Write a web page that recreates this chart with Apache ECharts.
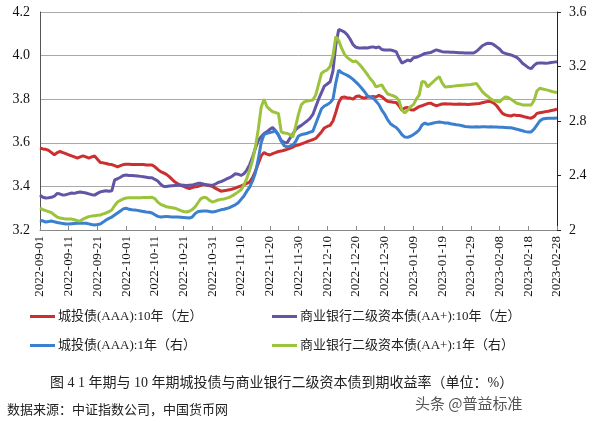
<!DOCTYPE html>
<html><head><meta charset="utf-8">
<script src="https://cdn.jsdelivr.net/npm/echarts@6/dist/echarts.min.js"></script>
<style>html,body{margin:0;padding:0;background:#fff}#c{width:600px;height:422px}</style>
</head><body><div id="c"></div>
<script>
const startDate = '2022-09-01';
const dayCount = 181;
const leftTicks = {min: 3.2, max: 4.2, interval: 0.2};
const rightTicks = {min: 2, max: 3.6, interval: 0.4};
const seriesNames = ['城投债(AAA):10年（左）','商业银行二级资本债(AA+):10年（左）','城投债(AAA):1年（右）','商业银行二级资本债(AA+):1年（右）'];
const caption = '图 4 1 年期与 10 年期城投债与商业银行二级资本债到期收益率（单位：%）';
const source = '数据来源：中证指数公司，中国货币网';

const cityAAA10 = [3.576,3.572,3.570,3.565,3.555,3.545,3.555,3.560,3.555,3.550,
3.545,3.540,3.535,3.530,3.535,3.540,3.535,3.530,3.535,3.540,
3.525,3.510,3.508,3.505,3.502,3.500,3.495,3.490,3.495,3.500,
3.502,3.502,3.500,3.500,3.500,3.500,3.500,3.498,3.498,3.498,
3.490,3.478,3.468,3.462,3.455,3.445,3.432,3.420,3.412,3.405,
3.400,3.395,3.390,3.395,3.398,3.400,3.405,3.410,3.406,3.403,
3.400,3.392,3.385,3.378,3.380,3.382,3.385,3.388,3.392,3.398,
3.402,3.408,3.414,3.420,3.440,3.470,3.505,3.540,3.555,3.548,
3.544,3.550,3.555,3.560,3.562,3.566,3.570,3.575,3.580,3.588,
3.590,3.595,3.600,3.605,3.610,3.615,3.620,3.635,3.650,3.668,
3.675,3.680,3.700,3.740,3.785,3.808,3.810,3.806,3.805,3.800,
3.812,3.815,3.808,3.805,3.810,3.810,3.812,3.810,3.818,3.812,
3.800,3.790,3.788,3.786,3.785,3.770,3.750,3.760,3.762,3.752,
3.750,3.758,3.766,3.770,3.775,3.780,3.782,3.775,3.770,3.774,
3.778,3.779,3.778,3.778,3.777,3.777,3.778,3.777,3.777,3.776,
3.777,3.778,3.779,3.780,3.784,3.787,3.790,3.789,3.782,3.770,
3.752,3.735,3.728,3.725,3.723,3.728,3.725,3.725,3.722,3.718,
3.715,3.713,3.720,3.735,3.738,3.740,3.743,3.745,3.748,3.750,
3.755];

const bankAA10 = [3.360,3.350,3.347,3.348,3.350,3.355,3.368,3.365,3.360,3.362,
3.366,3.370,3.368,3.372,3.374,3.372,3.370,3.366,3.362,3.360,
3.368,3.375,3.378,3.380,3.378,3.380,3.430,3.435,3.442,3.450,
3.452,3.450,3.450,3.449,3.448,3.446,3.444,3.442,3.440,3.440,
3.432,3.425,3.410,3.400,3.400,3.402,3.403,3.404,3.405,3.406,
3.405,3.404,3.405,3.406,3.410,3.414,3.414,3.410,3.408,3.406,
3.405,3.410,3.418,3.422,3.428,3.434,3.440,3.448,3.458,3.456,
3.450,3.458,3.475,3.500,3.535,3.575,3.610,3.628,3.642,3.650,
3.662,3.670,3.655,3.635,3.610,3.602,3.600,3.620,3.640,3.660,
3.672,3.680,3.690,3.700,3.712,3.730,3.765,3.800,3.830,3.860,
3.870,3.880,3.930,4.050,4.120,4.115,4.108,4.095,4.075,4.050,
4.038,4.035,4.035,4.036,4.035,4.038,4.040,4.036,4.040,4.028,
4.026,4.026,4.026,4.022,4.018,3.990,3.966,3.972,3.980,3.975,
3.990,3.992,3.998,4.003,4.010,4.012,4.014,4.020,4.026,4.022,
4.018,4.017,4.016,4.015,4.015,4.014,4.013,4.013,4.012,4.012,
4.012,4.012,4.020,4.032,4.045,4.052,4.057,4.056,4.050,4.040,
4.030,4.015,4.010,4.006,4.003,3.998,3.992,3.980,3.965,3.955,
3.945,3.940,3.955,3.965,3.966,3.966,3.965,3.966,3.968,3.970,
3.972];

const cityAAA1 = [2.073,2.066,2.059,2.062,2.066,2.060,2.055,2.051,2.048,2.044,
2.044,2.046,2.048,2.050,2.050,2.050,2.050,2.045,2.040,2.037,
2.040,2.044,2.058,2.073,2.085,2.095,2.110,2.125,2.140,2.155,
2.160,2.152,2.148,2.146,2.144,2.140,2.136,2.132,2.130,2.125,
2.112,2.100,2.095,2.098,2.100,2.098,2.096,2.095,2.095,2.094,
2.092,2.090,2.088,2.095,2.120,2.135,2.137,2.139,2.140,2.136,
2.132,2.135,2.142,2.148,2.152,2.158,2.164,2.175,2.185,2.200,
2.225,2.250,2.285,2.315,2.360,2.420,2.520,2.640,2.700,2.710,
2.715,2.720,2.730,2.700,2.650,2.620,2.610,2.615,2.625,2.650,
2.690,2.700,2.705,2.710,2.718,2.725,2.780,2.835,2.890,2.910,
2.920,2.935,2.960,3.080,3.174,3.155,3.145,3.135,3.122,3.105,
3.085,3.065,3.040,3.015,2.985,2.975,2.970,2.945,2.920,2.880,
2.850,2.810,2.780,2.765,2.752,2.730,2.700,2.682,2.680,2.688,
2.700,2.715,2.734,2.770,2.785,2.775,2.780,2.785,2.790,2.793,
2.790,2.786,2.785,2.780,2.776,2.772,2.770,2.765,2.760,2.758,
2.756,2.756,2.757,2.756,2.758,2.757,2.756,2.757,2.756,2.756,
2.755,2.754,2.752,2.750,2.750,2.745,2.740,2.734,2.728,2.722,
2.720,2.720,2.740,2.770,2.800,2.815,2.818,2.820,2.820,2.820,
2.822];

const bankAA1 = [2.160,2.150,2.142,2.135,2.128,2.110,2.095,2.088,2.084,2.080,
2.080,2.080,2.075,2.068,2.066,2.080,2.090,2.098,2.102,2.105,
2.108,2.110,2.118,2.125,2.135,2.147,2.180,2.205,2.218,2.228,
2.235,2.236,2.236,2.237,2.237,2.237,2.238,2.238,2.239,2.240,
2.230,2.205,2.188,2.180,2.170,2.167,2.164,2.160,2.152,2.142,
2.136,2.132,2.138,2.150,2.170,2.200,2.230,2.240,2.236,2.218,
2.205,2.212,2.220,2.225,2.228,2.234,2.240,2.252,2.265,2.280,
2.295,2.330,2.380,2.440,2.510,2.610,2.740,2.900,2.960,2.905,
2.885,2.868,2.862,2.855,2.720,2.712,2.710,2.700,2.682,2.760,
2.850,2.920,2.940,2.946,2.950,2.954,2.990,3.070,3.150,3.165,
3.175,3.200,3.280,3.420,3.390,3.335,3.290,3.265,3.250,3.235,
3.240,3.220,3.196,3.170,3.140,3.110,3.086,3.050,3.058,3.065,
3.030,3.000,2.992,2.985,2.975,2.950,2.880,2.860,2.880,2.905,
2.920,2.960,2.990,3.090,3.086,3.050,3.070,3.090,3.110,3.125,
3.080,3.050,3.052,3.054,3.056,3.058,3.060,3.062,3.064,3.066,
3.068,3.072,3.075,3.045,3.015,2.995,2.980,2.960,2.950,2.945,
2.940,2.960,2.976,2.972,2.960,2.945,2.930,2.925,2.918,2.917,
2.917,2.917,2.950,3.020,3.040,3.035,3.030,3.025,3.018,3.012,
3.010];

const colors = ['#cc2f2f','#6355a6','#3b7fcf','#9cc33c'];

function buildDates(start, n) {
  const out = [];
  const t0 = Date.parse(start + 'T00:00:00Z');
  for (let i = 0; i < n; i++) {
    out.push(new Date(t0 + i * 86400000).toISOString().slice(0, 10));
  }
  return out;
}
const dates = buildDates(startDate, dayCount);

const serif = '"Liberation Serif","Noto Sans CJK SC",serif';
const chart = echarts.init(document.getElementById('c'), null, {renderer: 'canvas'});
const mkLine = (i, data, axis) => ({
  name: seriesNames[i], type: 'line', yAxisIndex: axis, data: data,
  showSymbol: false, symbol: 'none', smooth: false,
  lineStyle: {color: colors[i], width: 3}, itemStyle: {color: colors[i]},
  emphasis: {disabled: true}, animation: false
});
const legendPos = [[30, 310], [272, 310], [30, 339], [272, 339]];
chart.setOption({
  animation: false,
  backgroundColor: '#fff',
  grid: {left: 40, right: 43, top: 12, bottom: 192, containLabel: false},
  legend: legendPos.map((p, i) => ({
    data: [seriesNames[i]], left: p[0], top: p[1], itemWidth: 25, itemHeight: 3,
    itemGap: 4, icon: 'rect', selectedMode: false, padding: 0,
    textStyle: {fontFamily: serif, fontSize: 13, color: '#222', padding: [0, 0, 0, -2]}
  })),
  xAxis: {
    type: 'category', data: dates, boundaryGap: false,
    axisLine: {lineStyle: {color: '#888', width: 1}},
    axisTick: {show: true, inside: true, interval: 9, length: 4, lineStyle: {color: '#888'}},
    axisLabel: {interval: 9, rotate: 90, fontFamily: serif, fontSize: 13, color: '#111', margin: 6},
    splitLine: {show: false}
  },
  yAxis: [{
    type: 'value', min: leftTicks.min, max: leftTicks.max, interval: leftTicks.interval,
    axisLine: {show: true, lineStyle: {color: '#555'}},
    axisTick: {show: false},
    axisLabel: {formatter: v => v.toFixed(1), fontFamily: serif, fontSize: 14, color: '#111', margin: 10},
    splitLine: {show: true, lineStyle: {color: '#a8a8a8', width: 1}}
  }, {
    type: 'value', position: 'right', min: rightTicks.min, max: rightTicks.max, interval: rightTicks.interval,
    axisLine: {show: true, lineStyle: {color: '#222'}},
    axisTick: {show: true, inside: false, length: 4, lineStyle: {color: '#222'}},
    axisLabel: {formatter: v => String(Math.round(v * 10) / 10), fontFamily: serif, fontSize: 14, color: '#111', margin: 12},
    splitLine: {show: false}
  }],
  series: [
    mkLine(0, cityAAA10, 0),
    mkLine(1, bankAA10, 0),
    mkLine(2, cityAAA1, 1),
    mkLine(3, bankAA1, 1)
  ],
  graphic: [
    {type: 'text', left: 50, top: 376, style: {text: caption, font: '14px ' + serif, fill: '#222'}},
    {type: 'text', left: 7, top: 404, style: {text: source, font: '13px ' + serif, fill: '#222'}},
    {type: 'text', left: 415, top: 396, style: {text: '头条 @普益标准', font: '15px "Noto Sans CJK SC",sans-serif', fill: '#555'}}
  ]
});
</script>
</body></html>
